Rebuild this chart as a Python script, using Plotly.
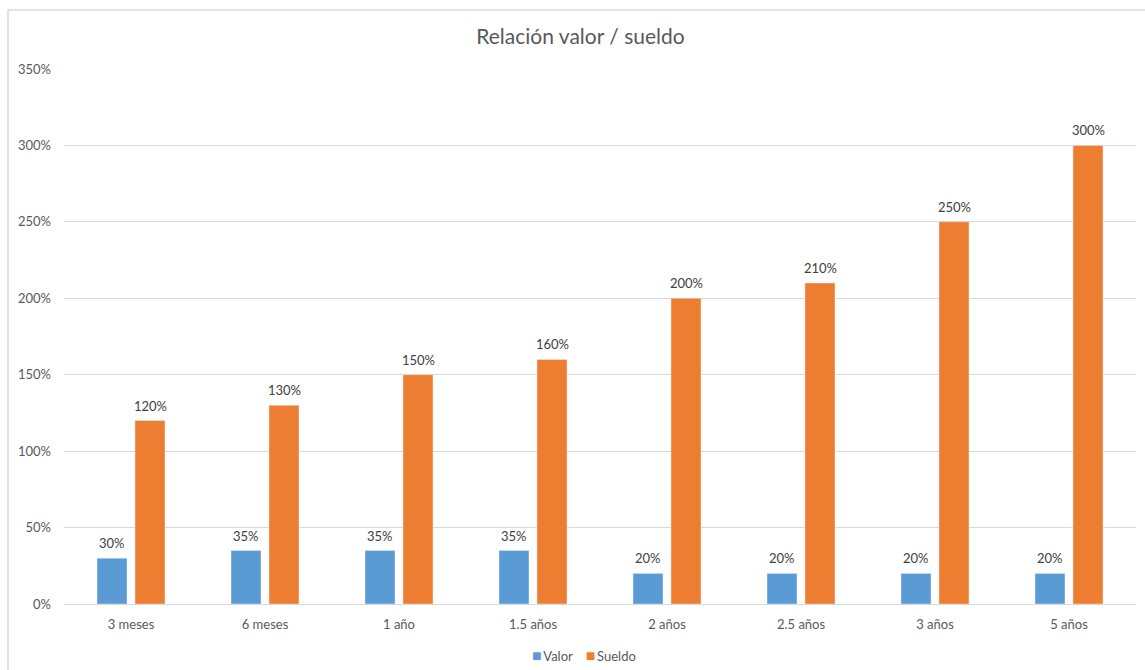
import plotly.graph_objects as go

categories = ["3 meses", "6 meses", "1 año", "1.5 años", "2 años", "2.5 años", "3 años", "5 años"]
valor = [0.30, 0.35, 0.35, 0.35, 0.20, 0.20, 0.20, 0.20]
sueldo = [1.20, 1.30, 1.50, 1.60, 2.00, 2.10, 2.50, 3.00]
y_ticks = [0, 0.5, 1.0, 1.5, 2.0, 2.5, 3.0, 3.5]

BLUE = "#5B9BD5"
ORANGE = "#ED7D31"
TEXT = "#595959"
LABEL = "#404040"
GRID = "#D9D9D9"
FONT = "Lato, 'Open Sans', sans-serif"

fig = go.Figure()
fig.add_trace(go.Bar(name="Valor", x=categories, y=valor, marker_color=BLUE, showlegend=False))
fig.add_trace(go.Bar(name="Sueldo", x=categories, y=sueldo, marker_color=ORANGE, showlegend=False))

# value labels above each bar, shifted to its slot within the group
annotations = []
for series, shift in ((valor, -19), (sueldo, 19)):
    for cat, v in zip(categories, series):
        annotations.append(dict(
            x=cat, y=v, xref="x", yref="y", text=f"{v:.0%}", showarrow=False,
            xshift=shift, yshift=15, yanchor="middle",
            font=dict(size=13, color=LABEL, family=FONT),
        ))

# legend row at the bottom
annotations.append(dict(
    xref="paper", yref="paper", x=0.485, y=-0.0935,
    xanchor="center", yanchor="middle", showarrow=False,
    text=(f"<span style='color:{BLUE};font-size:16px'>■</span>\u2009Valor\u2002\u2002"
          f"<span style='color:{ORANGE};font-size:16px'>■</span>\u2009Sueldo"),
    font=dict(size=13, color=TEXT, family=FONT),
))

fig.update_layout(
    width=1145, height=670,
    margin=dict(l=64, r=9, t=69, b=66),
    paper_bgcolor="white", plot_bgcolor="white",
    font=dict(family=FONT, color=TEXT, size=13),
    barmode="group", bargap=0.433, bargroupgap=0.21,
    showlegend=False,
    title=dict(text="Relación valor / sueldo", x=0.507, xanchor="center",
               y=0.945, yanchor="middle", xref="container", yref="container",
               font=dict(size=21, color=TEXT, family=FONT)),
    yaxis=dict(range=[0, 3.5], tickvals=y_ticks, tickformat=".0%",
               showgrid=True, gridcolor=GRID, gridwidth=1, zeroline=False,
               showline=False, ticks="", ticklabelstandoff=12,
               tickfont=dict(size=13, color=TEXT)),
    xaxis=dict(showgrid=False, showline=True, linecolor=GRID, linewidth=1,
               ticks="", ticklabelstandoff=8, tickfont=dict(size=13, color=TEXT)),
    annotations=annotations,
    shapes=[dict(type="rect", xref="paper", yref="paper",
                 x0=(8 - 64) / 1072, x1=1.2, y0=-0.5, y1=(604 - 10) / 535,
                 line=dict(color=GRID, width=1.5), fillcolor="rgba(0,0,0,0)", layer="below")],
)

fig.write_html("out.html")
